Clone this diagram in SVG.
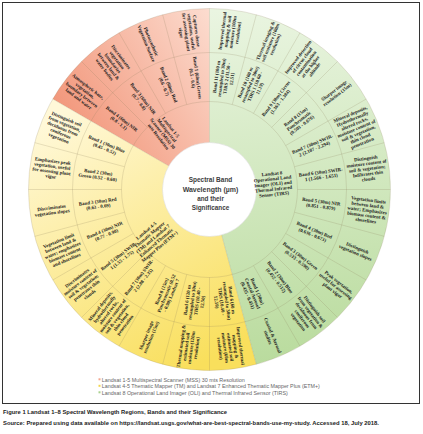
<svg xmlns="http://www.w3.org/2000/svg" width="423" height="434" viewBox="0 0 423 434">
<defs>
<linearGradient id="gr" gradientUnits="userSpaceOnUse" x1="209" y1="10" x2="55" y2="110"><stop offset="0" stop-color="#fcdccf"/><stop offset="1" stop-color="#f2967a"/></linearGradient>
<linearGradient id="gy" gradientUnits="userSpaceOnUse" x1="60" y1="115" x2="200" y2="365"><stop offset="0" stop-color="#fff8d8"/><stop offset="1" stop-color="#f9df5c"/></linearGradient>
<linearGradient id="gg" gradientUnits="userSpaceOnUse" x1="220" y1="10" x2="255" y2="368"><stop offset="0" stop-color="#eaf5e1"/><stop offset="1" stop-color="#b9db9d"/></linearGradient>
<style>
.t{font-family:"Liberation Serif","DejaVu Serif",serif;font-weight:bold;font-size:4.9px;fill:#1a1a1a;text-anchor:middle}
.ttl{font-family:"Liberation Sans",Arial,sans-serif;font-weight:bold;font-size:7.5px;fill:#3d3d3d;text-anchor:middle}
.lg{font-family:"Liberation Sans",Arial,sans-serif;font-size:4.8px;fill:#666}
.cap{font-family:"Liberation Sans",Arial,sans-serif;font-weight:bold;font-size:6px;fill:#222}
.sep{stroke:#8c7f5a;stroke-opacity:0.35;stroke-width:0.6;fill:none}
</style>
</defs>
<rect x="0" y="0" width="423" height="434" fill="#ffffff"/>
<rect x="2.5" y="2.5" width="417" height="401" fill="none" stroke="#333" stroke-width="1"/>
<g id="sectors">
<path d="M209.5 189.5 L209.5 8.5 A181 181 0 0 0 52.75 99 Z" fill="url(#gr)"/>
<path d="M209.5 189.5 L52.75 99 A181 181 0 0 0 256.35 364.33 Z" fill="url(#gy)"/>
<path d="M209.5 189.5 L256.35 364.33 A181 181 0 0 0 209.5 8.5 Z" fill="url(#gg)"/>
</g>
<g id="connectors" class="sep">
<circle cx="209.5" cy="189.5" r="181"/>
<circle cx="209.5" cy="189.5" r="137"/>
<circle cx="209.5" cy="189.5" r="88"/>
<path d="M297.5 189.5L390.5 189.5M294.5 166.72L384.33 142.65M285.71 145.5L366.25 99M271.73 127.27L337.49 61.51M253.5 113.29L300 32.75M232.28 104.5L256.35 14.67M209.5 142.5L209.5 8.5M186.72 104.5L162.65 14.67M165.5 113.29L119 32.75M147.27 127.27L81.51 61.51M168.8 166L52.75 99M124.5 166.72L34.67 142.65M121.5 189.5L28.5 189.5M124.5 212.28L34.67 236.35M133.29 233.5L52.75 280M147.27 251.73L81.51 317.49M165.5 265.71L119 346.25M186.72 274.5L162.65 364.33M209.5 277.5L209.5 370.5M221.66 234.9L256.35 364.33M253.5 265.71L300 346.25M271.73 251.73L337.49 317.49M285.71 233.5L366.25 280M294.5 212.28L384.33 236.35"/>
</g>
<g id="center">
<circle cx="209.5" cy="189.5" r="47" fill="#ffffff" stroke="#d8d8d8" stroke-width="0.5"/>
<text class="ttl" x="210.5" y="182" textLength="43.7" lengthAdjust="spacingAndGlyphs">Spectral Band</text>
<text class="ttl" x="210.5" y="191.5" textLength="55.7" lengthAdjust="spacingAndGlyphs">Wavelength (µm)</text>
<text class="ttl" x="210.5" y="201" textLength="26.7" lengthAdjust="spacingAndGlyphs">and their</text>
<text class="ttl" x="210.5" y="210" textLength="37.7" lengthAdjust="spacingAndGlyphs">Significance</text>
</g>
<g id="series-mss"><text class="t" transform="translate(164.6,132) rotate(52)"><tspan x="0" dy="-6.2">Landsat 1-5</tspan><tspan x="0" dy="5.2">Multispectral</tspan><tspan x="0" dy="5.2">Scanner (MSS) 30</tspan><tspan x="0" dy="5.2">mts Resolution</tspan></text></g>
<g id="series-tm"><text class="t" transform="translate(152.9,238.7) rotate(-40)"><tspan x="0" dy="-8.8">Landsat 4-5</tspan><tspan x="0" dy="5.2">Thematic Mapper</tspan><tspan x="0" dy="5.2">(TM) and Landsat 7</tspan><tspan x="0" dy="5.2">Enhanced Thematic</tspan><tspan x="0" dy="5.2">Mapper Plus (ETM+)</tspan></text></g>
<g id="series-oli"><text class="t" transform="translate(273,184) rotate(-6)"><tspan x="0" dy="-8.8">Landsat 8</tspan><tspan x="0" dy="5.2">Operational Land</tspan><tspan x="0" dy="5.2">Imager (OLI) and</tspan><tspan x="0" dy="5.2">Thermal Infrared</tspan><tspan x="0" dy="5.2">Sensor (TIRS)</tspan></text></g>

<g id="mss-b1"><text class="t" transform="translate(194.82,77.96) rotate(82.5)"><tspan x="0" dy="-1">Band 1 (60m) Green</tspan><tspan x="0" dy="5.2">(0.5 - 0.6)</tspan></text>
<text class="t" transform="translate(188.75,31.86) rotate(82.5)"><tspan x="0" dy="-6.2">Captures dense</tspan><tspan x="0" dy="5.2">vegetation, useful</tspan><tspan x="0" dy="5.2">for assessing plant</tspan><tspan x="0" dy="5.2">vigor</tspan></text></g>
<g id="mss-b2"><text class="t" transform="translate(166.45,85.56) rotate(67.5)"><tspan x="0" dy="-1">Band 2 (60m) Red</tspan><tspan x="0" dy="5.2">(0.6 - 0.7)</tspan></text>
<text class="t" transform="translate(148.65,42.6) rotate(67.5)"><tspan x="0" dy="-1">Photosynthetic</tspan><tspan x="0" dy="5.2">Vegetation Surface</tspan></text></g>
<g id="mss-b3"><text class="t" transform="translate(141.01,100.25) rotate(52.5)"><tspan x="0" dy="-1">Band 3 (60m) NIR</tspan><tspan x="0" dy="5.2">(0.7 - 0.8)</tspan></text>
<text class="t" transform="translate(112.71,63.36) rotate(52.5)"><tspan x="0" dy="-8.8">Discriminates</tspan><tspan x="0" dy="5.2">vegetation</tspan><tspan x="0" dy="5.2">boundaries</tspan><tspan x="0" dy="5.2">between land &amp;</tspan><tspan x="0" dy="5.2">water bodies</tspan></text></g>
<g id="mss-b4"><text class="t" transform="translate(120.25,121.01) rotate(37.5)"><tspan x="0" dy="-1">Band 4 (60m) NIR</tspan><tspan x="0" dy="5.2">(0.8 - 1.1)</tspan></text>
<text class="t" transform="translate(83.36,92.71) rotate(37.5)"><tspan x="0" dy="-6.2">Atmospheric haze,</tspan><tspan x="0" dy="5.2">vegetation,</tspan><tspan x="0" dy="5.2">boundary between</tspan><tspan x="0" dy="5.2">land and water</tspan></text></g>

<g id="tm-b1"><text class="t" transform="translate(105.56,146.45) rotate(22.5)"><tspan x="0" dy="-1">Band 1 (30m) Blue</tspan><tspan x="0" dy="5.2">(0.45 - 0.52)</tspan></text>
<text class="t" transform="translate(62.6,128.65) rotate(22.5)"><tspan x="0" dy="-8.8">Distinguish soil</tspan><tspan x="0" dy="5.2">from vegetation,</tspan><tspan x="0" dy="5.2">deciduous from</tspan><tspan x="0" dy="5.2">coniferous</tspan><tspan x="0" dy="5.2">vegetation</tspan></text></g>
<g id="tm-b2"><text class="t" transform="translate(97.96,174.82) rotate(7.5)"><tspan x="0" dy="-1">Band 2 (30m)</tspan><tspan x="0" dy="5.2">Green (0.52 - 0.60)</tspan></text>
<text class="t" transform="translate(51.86,168.75) rotate(7.5)"><tspan x="0" dy="-6.2">Emphasizes peak</tspan><tspan x="0" dy="5.2">vegetation, useful</tspan><tspan x="0" dy="5.2">for assessing plant</tspan><tspan x="0" dy="5.2">vigor</tspan></text></g>
<g id="tm-b3"><text class="t" transform="translate(97.96,204.18) rotate(-7.5)"><tspan x="0" dy="-1">Band 3 (30m) Red</tspan><tspan x="0" dy="5.2">(0.63 - 0.69)</tspan></text>
<text class="t" transform="translate(51.86,210.25) rotate(-7.5)"><tspan x="0" dy="-1">Discriminates</tspan><tspan x="0" dy="5.2">vegetation slopes</tspan></text></g>
<g id="tm-b4"><text class="t" transform="translate(105.56,232.55) rotate(-22.5)"><tspan x="0" dy="-1">Band 4 (30m) NIR</tspan><tspan x="0" dy="5.2">(0.77 - 0.90)</tspan></text>
<text class="t" transform="translate(62.6,250.35) rotate(-22.5)"><tspan x="0" dy="-8.8">Vegetation limit</tspan><tspan x="0" dy="5.2">between land &amp;</tspan><tspan x="0" dy="5.2">water; emphasizes</tspan><tspan x="0" dy="5.2">biomass content</tspan><tspan x="0" dy="5.2">and shorelines</tspan></text></g>
<g id="tm-b5"><text class="t" transform="translate(120.25,257.99) rotate(-37.5)"><tspan x="0" dy="-1">Band 5 (30m) SWIR-</tspan><tspan x="0" dy="5.2">1 (1.55 - 1.75)</tspan></text>
<text class="t" transform="translate(83.36,286.29) rotate(-37.5)"><tspan x="0" dy="-8.8">Discriminates</tspan><tspan x="0" dy="5.2">moisture content of</tspan><tspan x="0" dy="5.2">soil &amp; vegetation;</tspan><tspan x="0" dy="5.2">penetrates thin</tspan><tspan x="0" dy="5.2">clouds</tspan></text></g>
<g id="tm-b7"><text class="t" transform="translate(141.01,278.75) rotate(-52.5)"><tspan x="0" dy="-1">Band 7 (30m) SWIR-</tspan><tspan x="0" dy="5.2">2 (2.08 - 2.35)</tspan></text>
<text class="t" transform="translate(112.71,315.64) rotate(-52.5)"><tspan x="0" dy="-14">Mineral deposits,</tspan><tspan x="0" dy="5.2">hydrothermally</tspan><tspan x="0" dy="5.2">altered rocks,</tspan><tspan x="0" dy="5.2">moisture content of</tspan><tspan x="0" dy="5.2">soil &amp; vegetation,</tspan><tspan x="0" dy="5.2">thin cloud</tspan><tspan x="0" dy="5.2">penetration</tspan></text></g>
<g id="tm-b8"><text class="t" transform="translate(166.45,293.44) rotate(-67.5)"><tspan x="0" dy="-3.6">Band 8 (15m)</tspan><tspan x="0" dy="5.2">Panchromatic (0.52</tspan><tspan x="0" dy="5.2">- 0.90) Landsat 7</tspan></text>
<text class="t" transform="translate(148.65,336.4) rotate(-67.5)"><tspan x="0" dy="-1">Sharper image</tspan><tspan x="0" dy="5.2">resolution (15m)</tspan></text></g>
<g id="tm-b6a"><text class="t" transform="translate(194.82,301.04) rotate(-82.5)"><tspan x="0" dy="-6.2">Band 6 (120 m</tspan><tspan x="0" dy="5.2">resampled to 30m)</tspan><tspan x="0" dy="5.2">TIRS (10.40 -</tspan><tspan x="0" dy="5.2">12.50)</tspan></text>
<text class="t" transform="translate(188.75,347.14) rotate(-82.5)"><tspan x="0" dy="-6.2">Thermal mapping &amp;</tspan><tspan x="0" dy="5.2">estimated soil</tspan><tspan x="0" dy="5.2">moisture (120m</tspan><tspan x="0" dy="5.2">resolution)</tspan></text></g>
<g id="tm-b6b"><text class="t" transform="translate(224.18,301.04) rotate(82.5)"><tspan x="0" dy="-6.2">Band 6 (60 m</tspan><tspan x="0" dy="5.2">resampled to 30m)</tspan><tspan x="0" dy="5.2">TIRS (10.40 -</tspan><tspan x="0" dy="5.2">12.50)</tspan></text>
<text class="t" transform="translate(230.25,347.14) rotate(82.5)"><tspan x="0" dy="-8.8">Improved thermal</tspan><tspan x="0" dy="5.2">mapping &amp;</tspan><tspan x="0" dy="5.2">estimated soil</tspan><tspan x="0" dy="5.2">moisture (60m</tspan><tspan x="0" dy="5.2">resolution)</tspan></text></g>

<g id="oli-b1"><text class="t" transform="translate(252.55,293.44) rotate(67.5)"><tspan x="0" dy="-3.6">Band 1 (30m)</tspan><tspan x="0" dy="5.2">Coastal Aerosol</tspan><tspan x="0" dy="5.2">(0.435 - 0.451)</tspan></text>
<text class="t" transform="translate(270.35,336.4) rotate(67.5)"><tspan x="0" dy="-1">Coastal &amp; Aerosol</tspan><tspan x="0" dy="5.2">studies</tspan></text></g>
<g id="oli-b2"><text class="t" transform="translate(278,278.75) rotate(52.5)"><tspan x="0" dy="-1">Band 2 (30m) Blue</tspan><tspan x="0" dy="5.2">(0.452 - 0.512)</tspan></text>
<text class="t" transform="translate(306.29,315.64) rotate(52.5)"><tspan x="0" dy="-8.8">Distinguish soil</tspan><tspan x="0" dy="5.2">from vegetation &amp;</tspan><tspan x="0" dy="5.2">deciduous from</tspan><tspan x="0" dy="5.2">coniferous</tspan><tspan x="0" dy="5.2">vegetation</tspan></text></g>
<g id="oli-b3"><text class="t" transform="translate(298.75,257.99) rotate(37.5)"><tspan x="0" dy="-1">Band 3 (30m) Green</tspan><tspan x="0" dy="5.2">(0.533 - 0.590)</tspan></text>
<text class="t" transform="translate(335.64,286.29) rotate(37.5)"><tspan x="0" dy="-3.6">Peak vegetation,</tspan><tspan x="0" dy="5.2">useful for assessing</tspan><tspan x="0" dy="5.2">plant vigor</tspan></text></g>
<g id="oli-b4"><text class="t" transform="translate(313.44,232.55) rotate(22.5)"><tspan x="0" dy="-1">Band 4 (30m) Red</tspan><tspan x="0" dy="5.2">(0.636 - 0.673)</tspan></text>
<text class="t" transform="translate(356.4,250.35) rotate(22.5)"><tspan x="0" dy="-1">Distinguish</tspan><tspan x="0" dy="5.2">vegetation slopes</tspan></text></g>
<g id="oli-b5"><text class="t" transform="translate(321.04,204.18) rotate(7.5)"><tspan x="0" dy="-1">Band 5 (30m) NIR</tspan><tspan x="0" dy="5.2">(0.851 - 0.879)</tspan></text>
<text class="t" transform="translate(367.14,210.25) rotate(7.5)"><tspan x="0" dy="-8.8">Vegetation limits</tspan><tspan x="0" dy="5.2">between land &amp;</tspan><tspan x="0" dy="5.2">water; Emphasizes</tspan><tspan x="0" dy="5.2">biomass content &amp;</tspan><tspan x="0" dy="5.2">shorelines</tspan></text></g>
<g id="oli-b6"><text class="t" transform="translate(321.04,174.82) rotate(-7.5)"><tspan x="0" dy="-1">Band 6 (30m) SWIR-</tspan><tspan x="0" dy="5.2">1 (1.566 - 1.651)</tspan></text>
<text class="t" transform="translate(367.14,168.75) rotate(-7.5)"><tspan x="0" dy="-8.8">Distinguish</tspan><tspan x="0" dy="5.2">moisture content of</tspan><tspan x="0" dy="5.2">soil &amp; vegetation;</tspan><tspan x="0" dy="5.2">Infiltrates thin</tspan><tspan x="0" dy="5.2">clouds</tspan></text></g>
<g id="oli-b7"><text class="t" transform="translate(313.44,146.45) rotate(-22.5)"><tspan x="0" dy="-1">Band 7 (30m) SWIR-</tspan><tspan x="0" dy="5.2">2 (2.107 - 2.294)</tspan></text>
<text class="t" transform="translate(356.4,128.65) rotate(-22.5)"><tspan x="0" dy="-14">Mineral deposits,</tspan><tspan x="0" dy="5.2">Hydrothermally</tspan><tspan x="0" dy="5.2">altered rocks,</tspan><tspan x="0" dy="5.2">moisture content of</tspan><tspan x="0" dy="5.2">soil &amp; vegetation,</tspan><tspan x="0" dy="5.2">thin cloud</tspan><tspan x="0" dy="5.2">penetration</tspan></text></g>
<g id="oli-b8"><text class="t" transform="translate(298.75,121.01) rotate(-37.5)"><tspan x="0" dy="-3.6">Band 8 (15m)</tspan><tspan x="0" dy="5.2">Panchromatic</tspan><tspan x="0" dy="5.2">(0.503 - 0.676)</tspan></text>
<text class="t" transform="translate(335.64,92.71) rotate(-37.5)"><tspan x="0" dy="-1">Sharper image</tspan><tspan x="0" dy="5.2">resolution (15m)</tspan></text></g>
<g id="oli-b9"><text class="t" transform="translate(277.99,100.25) rotate(-52.5)"><tspan x="0" dy="-1">Band 9 (30m) Cirrus</tspan><tspan x="0" dy="5.2">(1.363 - 1.384)</tspan></text>
<text class="t" transform="translate(306.29,63.36) rotate(-52.5)"><tspan x="0" dy="-8.8">Improved detection</tspan><tspan x="0" dy="5.2">of cirrus cloud</tspan><tspan x="0" dy="5.2">contamination</tspan><tspan x="0" dy="5.2">at the higher</tspan><tspan x="0" dy="5.2">altitude</tspan></text></g>
<g id="oli-b10"><text class="t" transform="translate(252.55,85.56) rotate(-67.5)"><tspan x="0" dy="-6.2">Band 10 (100 m</tspan><tspan x="0" dy="5.2">resampled to 30m)</tspan><tspan x="0" dy="5.2">TIRS 1 (10.60 -</tspan><tspan x="0" dy="5.2">11.19)</tspan></text>
<text class="t" transform="translate(270.35,42.6) rotate(-67.5)"><tspan x="0" dy="-3.6">Thermal imaging &amp;</tspan><tspan x="0" dy="5.2">soil moisture (100m</tspan><tspan x="0" dy="5.2">resolution)</tspan></text></g>
<g id="oli-b11"><text class="t" transform="translate(224.18,77.96) rotate(-82.5)"><tspan x="0" dy="-6.2">Band 11 (100 m</tspan><tspan x="0" dy="5.2">resampled to 30m)</tspan><tspan x="0" dy="5.2">TIRS 2 (11.50 -</tspan><tspan x="0" dy="5.2">12.51)</tspan></text>
<text class="t" transform="translate(230.25,31.86) rotate(-82.5)"><tspan x="0" dy="-6.2">Improved thermal</tspan><tspan x="0" dy="5.2">mapping &amp; soil</tspan><tspan x="0" dy="5.2">moisture (100m</tspan><tspan x="0" dy="5.2">resolution)</tspan></text></g>

<g id="legend">
<rect x="98.5" y="378.3" width="2" height="2" fill="#f4a58e"/>
<text class="lg" x="101.8" y="381.6" textLength="143" lengthAdjust="spacingAndGlyphs">Landsat 1-5 Multispectral Scanner (MSS) 30 mts Resolution</text>
<rect x="98.5" y="384.8" width="2" height="2" fill="#f3d54a"/>
<text class="lg" x="101.8" y="388.1" textLength="218" lengthAdjust="spacingAndGlyphs">Landsat 4-5 Thematic Mapper (TM) and Landsat 7 Enhanced Thematic Mapper Plus (ETM+)</text>
<rect x="98.5" y="391.3" width="2" height="2" fill="#a9d18e"/>
<text class="lg" x="101.8" y="394.6" textLength="186" lengthAdjust="spacingAndGlyphs">Landsat 8 Operational Land Imager (OLI) and Thermal Infrared Sensor (TIRS)</text>
</g>
<g id="caption">
<text class="cap" x="3" y="414" textLength="224" lengthAdjust="spacingAndGlyphs">Figure 1 Landsat 1–8 Spectral Wavelength Regions, Bands and their Significance</text>
<text class="cap" x="3" y="425" textLength="376" lengthAdjust="spacingAndGlyphs">Source: Prepared using data available on https://landsat.usgs.gov/what-are-best-spectral-bands-use-my-study. Accessed 18, July 2018.</text>
</g>
</svg>
